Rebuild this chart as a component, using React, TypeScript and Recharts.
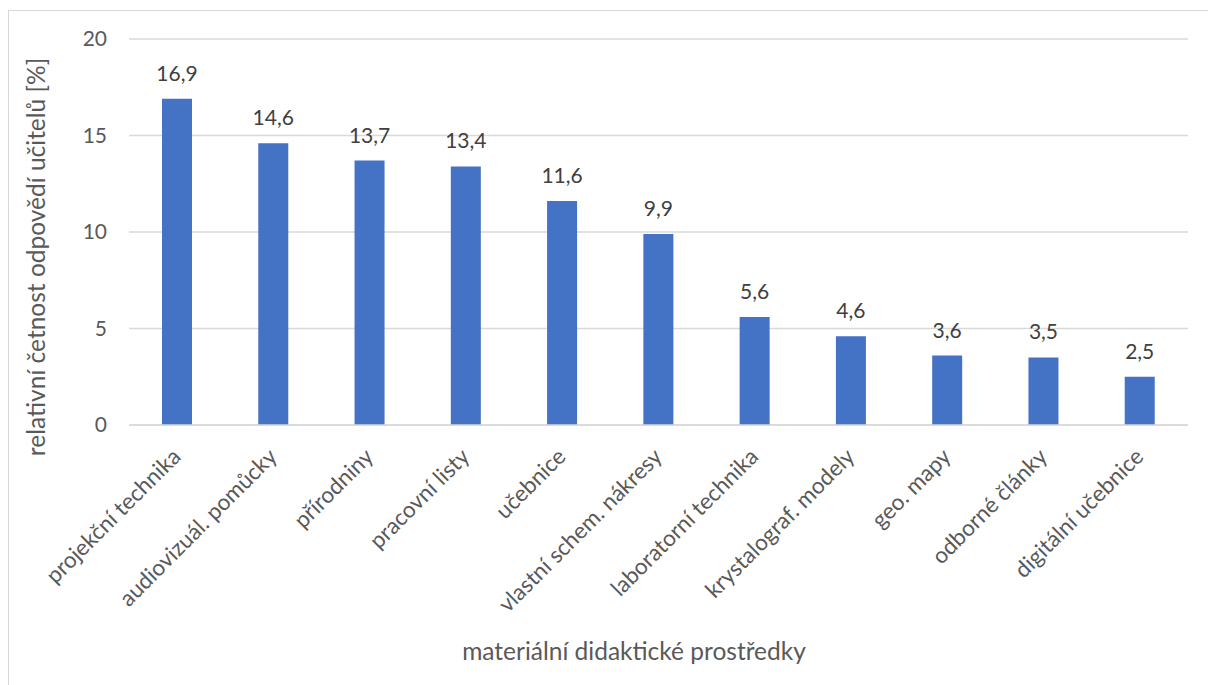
import { BarChart, Bar, XAxis, YAxis, CartesianGrid, LabelList } from 'recharts'

const categories = [
  'projekční technika',
  'audiovizuál. pomůcky',
  'přírodniny',
  'pracovní listy',
  'učebnice',
  'vlastní schem. nákresy',
  'laboratorní technika',
  'krystalograf. modely',
  'geo. mapy',
  'odborné články',
  'digitální učebnice',
]
const values = [16.9, 14.6, 13.7, 13.4, 11.6, 9.9, 5.6, 4.6, 3.6, 3.5, 2.5]
const yTicks = [0, 5, 10, 15, 20]

const data = categories.map((name, i) => ({ name, value: values[i] }))

const FONT = 'Lato, "Open Sans", sans-serif'
const AXIS_GREY = '#595959'

function AngledTick({ x, y, payload }: { x: number; y: number; payload: { value: string } }) {
  return (
    <g transform={`translate(${x + 5},${y + 25})`}>
      <text transform="rotate(-45)" textAnchor="end" fill={AXIS_GREY} fontSize={22.5} fontFamily={FONT}>
        {payload.value}
      </text>
    </g>
  )
}

// axis titles drawn at fixed spots, like the Excel chart area
function XTitle() {
  return (
    <text x={625} y={649} textAnchor="middle" fill={AXIS_GREY} fontSize={24.5} fontFamily={FONT}>
      materiální didaktické prostředky
    </text>
  )
}

function YTitle() {
  return (
    <text
      x={36}
      y={246}
      transform="rotate(-90, 36, 246)"
      textAnchor="middle"
      fill={AXIS_GREY}
      fontSize={24.5}
      fontFamily={FONT}
    >
      relativní četnost odpovědí učitelů [%]
    </text>
  )
}

export default function App() {
  return (
    <div
      style={{
        position: 'fixed',
        top: 10,
        left: 8,
        width: 1200,
        height: 675,
        borderTop: '1px solid #d9d9d9',
        borderLeft: '1px solid #d9d9d9',
        background: '#fff',
      }}
    >
      <BarChart
        width={1199}
        height={674}
        data={data}
        margin={{ top: 28, right: 20, bottom: 0, left: 0 }}
        style={{ fontFamily: FONT }}
      >
        <CartesianGrid vertical={false} stroke="#d9d9d9" strokeWidth={1.3} />
        <XAxis
          dataKey="name"
          interval={0}
          height={260}
          tickLine={false}
          axisLine={{ stroke: '#d9d9d9', strokeWidth: 1.3 }}
          tick={AngledTick as any}
          label={{ content: XTitle as any }}
        />
        <YAxis
          width={120}
          domain={[0, 20]}
          ticks={yTicks}
          interval={0}
          tickLine={false}
          axisLine={false}
          tickMargin={16}
          tick={{ fill: AXIS_GREY, fontSize: 21 }}
          label={{ content: YTitle as any }}
        />
        <Bar dataKey="value" fill="#4472c4" barSize={30} isAnimationActive={false}>
          <LabelList
            dataKey="value"
            position="top"
            offset={18}
            fill="#404040"
            fontSize={21}
            formatter={(v: any) => String(v).replace('.', ',')}
          />
        </Bar>
      </BarChart>
    </div>
  )
}
